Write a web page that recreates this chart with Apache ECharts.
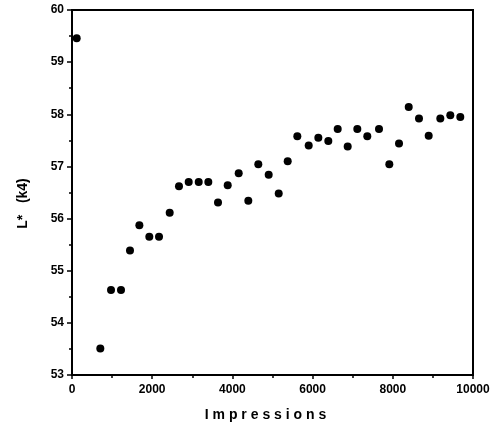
<!DOCTYPE html>
<html><head><meta charset="utf-8">
<script src="https://cdn.jsdelivr.net/npm/echarts@6/dist/echarts.min.js"></script>
<style>html,body{margin:0;padding:0;background:#fff}#c{width:497px;height:436px}</style>
</head><body><div id="c"></div>
<script>
const impressions = [117,706,973,1222,1446,1680,1928,2170,2436,2668,2910,3160,3400,3641,3883,4157,4397,4646,4905,5155,5379,5619,5903,6143,6392,6626,6875,7115,7364,7656,7913,8155,8397,8653,8895,9185,9434,9683];
const lStar = [59.46,53.51,54.63,54.63,55.39,55.87,55.65,55.65,56.11,56.62,56.70,56.70,56.70,56.31,56.64,56.87,56.34,57.04,56.84,56.48,57.10,57.58,57.40,57.55,57.49,57.72,57.38,57.72,57.58,57.72,57.04,57.44,58.14,57.92,57.59,57.92,57.98,57.95];
const xTickLabels = {0:'0',2000:'2000',4000:'4000',6000:'6000',8000:'8000',10000:'10000'};
const chart = echarts.init(document.getElementById('c'));
const font = 'Liberation Sans, Arial, sans-serif';
chart.setOption({
  animation:false,
  grid:{left:72,right:24,top:10,bottom:61,show:true,borderColor:'#000',borderWidth:2},
  xAxis:{type:'value',min:0,max:10000,interval:2000,
    name:'I m p r e s s i o n s',nameLocation:'middle',nameGap:33,
    nameTextStyle:{color:'#000',fontSize:14,fontWeight:'bold',fontFamily:font,padding:[0,14,0,0]},
    axisLine:{lineStyle:{color:'#000',width:2}},
    axisTick:{show:true,inside:false,length:4,lineStyle:{color:'#000',width:1.5}},
    minorTick:{show:true,splitNumber:2,length:3,lineStyle:{color:'#000',width:1.5}},
    splitLine:{show:false},
    axisLabel:{color:'#000',fontSize:12,fontWeight:'bold',fontFamily:font,margin:9,
      formatter:v=>xTickLabels[v]!==undefined?xTickLabels[v]:''}},
  yAxis:{type:'value',min:53,max:60,interval:1,
    name:'L*   (k4)',nameLocation:'middle',nameGap:42,nameRotate:90,
    nameTextStyle:{color:'#000',fontSize:14,fontWeight:'bold',fontFamily:font,padding:[0,22,0,0]},
    axisLine:{lineStyle:{color:'#000',width:2}},
    axisTick:{show:true,inside:false,length:5,lineStyle:{color:'#000',width:1.5}},
    minorTick:{show:true,splitNumber:2,length:3,lineStyle:{color:'#000',width:1.5}},
    splitLine:{show:false},
    axisLabel:{color:'#000',fontSize:12,fontWeight:'bold',fontFamily:font,margin:8}},
  series:[{type:'scatter',data:impressions.map((x,i)=>[x,lStar[i]]),
    symbol:'circle',symbolSize:8,itemStyle:{color:'#000',opacity:1}}]
});
</script></body></html>
